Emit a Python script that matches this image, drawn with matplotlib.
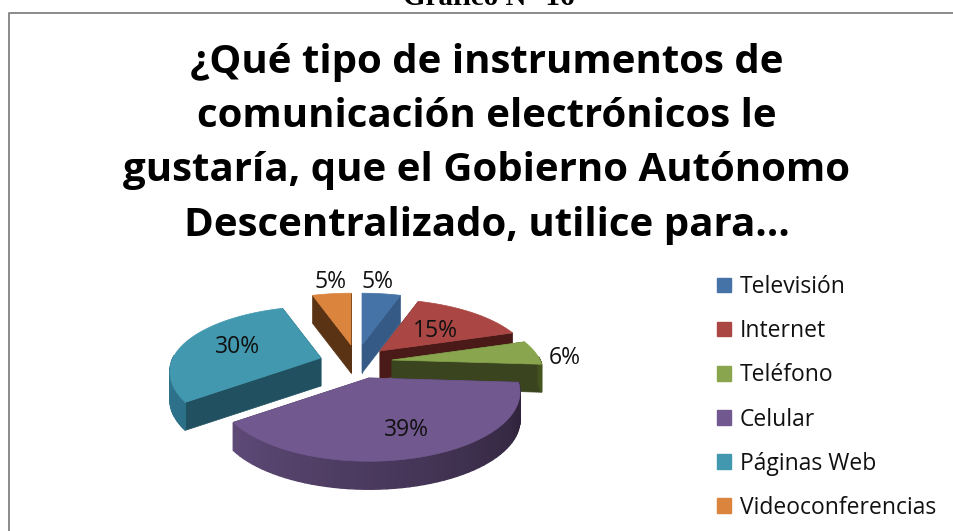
import numpy as np
import matplotlib
matplotlib.use("Agg")
import matplotlib.pyplot as plt
from matplotlib.patches import Polygon, Patch
from matplotlib.colors import to_rgb

categories = ["Televisión", "Internet", "Teléfono", "Celular", "Páginas Web", "Videoconferencias"]
values = [5, 15, 6, 39, 30, 5]
labels = ["5%", "15%", "6%", "39%", "30%", "5%"]
title_lines = ["¿Qué tipo de instrumentos de", "comunicación electrónicos le",
               "gustaría, que el Gobierno Autónomo", "Descentralizado, utilice para…"]

top_colors = ["#4573a7", "#aa4643", "#89a54e", "#71588f", "#4198af", "#db843d"]
wall_colors = ["#345a85", "#4a1a18", "#3a451f", "#3a2d4a", "#215060", "#5a3315"]
rim_light = ["#345a85", "#7a2f2d", "#46561f", "#5f4a78", "#327e96", "#a0602a"]
rim_dark = ["#345a85", "#7a2f2d", "#3a451f", "#2a2035", "#2c7088", "#a0602a"]
apex_px = [(362, 345), (380, 351), (392, 360), (369, 378), (321, 358), (351, 345)]
label_px = [(378, 282), (435, 331), (565, 358), (406, 430), (238, 347), (331, 282)]
draw_order = [5, 0, 1, 2, 4, 3]
R, PERSP, KY_FRONT, KY_REAR, DEPTH = 148, 0.2, 0.45, 0.42, 28

fig = plt.figure(figsize=(9.54, 5.31), dpi=100, facecolor="white")
ax = fig.add_axes([0, 0, 1, 1])
ax.set_xlim(0, 954)
ax.set_ylim(531, 0)
ax.axis("off")

# frame of the embedded chart
ax.plot([954, 9, 9], [13, 13, 531], color="#8a8a8a", lw=1.4, solid_capstyle="butt")


def rim(apex, th):
    c = np.cos(th)
    s = R / (1 + PERSP * c)
    k = KY_REAR if c > 0 else KY_FRONT
    return apex[0] + s * np.sin(th), apex[1] - k * s * c


edges = np.concatenate([[0], np.cumsum(values)]) / sum(values) * 2 * np.pi
for i in draw_order:
    a0, a1 = edges[i], edges[i + 1]
    apex = apex_px[i]
    ths = np.linspace(a0, a1, 60)
    arc = [rim(apex, t) for t in ths]
    for th in (a0, a1):
        p = rim(apex, th)
        ax.add_patch(Polygon([apex, p, (p[0], p[1] + DEPTH), (apex[0], apex[1] + DEPTH)],
                             closed=True, fc=wall_colors[i], ec=wall_colors[i], lw=0.5))
    c0, c1 = np.array(to_rgb(rim_light[i])), np.array(to_rgb(rim_dark[i]))
    for j in range(len(ths) - 1):
        mid = (ths[j] + ths[j + 1]) / 2
        if np.cos(mid) > 0.05:
            continue
        f = (a1 - mid) / (a1 - a0)
        col = c0 * (1 - f) + c1 * f
        p, q = arc[j], arc[j + 1]
        ax.add_patch(Polygon([p, q, (q[0], q[1] + DEPTH), (p[0], p[1] + DEPTH)],
                             closed=True, fc=col, ec=col, lw=1.0))
    ax.add_patch(Polygon([apex] + arc, closed=True, fc=top_colors[i], ec=top_colors[i], lw=0.5))

for lab, (x, y) in zip(labels, label_px):
    ax.text(x, y, lab, ha="center", va="center", fontsize=16.5, family="Open Sans", color="#111111")

for k, line in enumerate(title_lines):
    ax.text(487, 62 + 54.5 * k, line, ha="center", va="center", fontsize=29,
            family="Open Sans", fontweight="bold", color="black")

ax.text(489, 5, "Gráfico N° 16", ha="center", va="baseline", fontsize=21,
        family="Liberation Serif", fontweight="bold", color="black")

handles = [Patch(fc=c, ec=c) for c in top_colors]
fig.legend(handles, categories, loc="upper left", bbox_to_anchor=(717 / 954, 1 - 275 / 531),
           frameon=False, handlelength=0.6, handleheight=0.6, handletextpad=0.4,
           labelspacing=0.88, borderpad=0, borderaxespad=0, labelcolor="#111111",
           prop={"family": "Open Sans", "size": 16.5})

fig.savefig("out.png", dpi=100)
